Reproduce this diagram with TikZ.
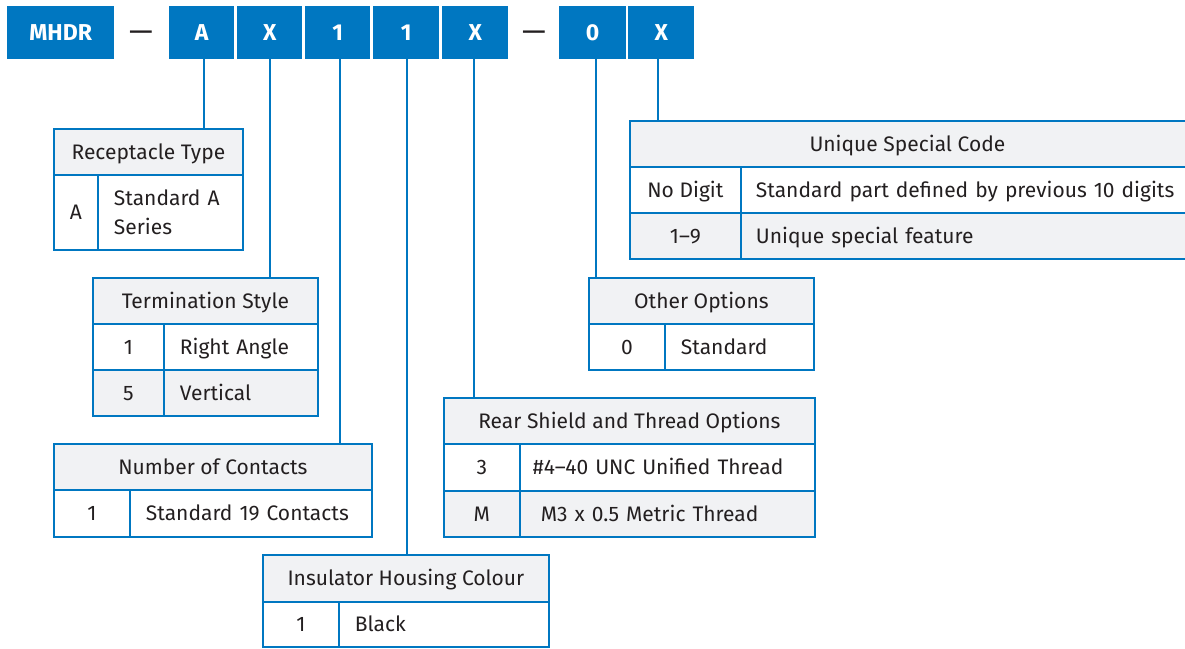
\documentclass[tikz,border=0pt]{standalone}
\usepackage{fontspec}
\setmainfont{Fira Sans}
\definecolor{bl}{HTML}{0077C1}
\definecolor{hg}{HTML}{F1F2F4}
\definecolor{tc}{HTML}{231F20}
\newcommand\tfnt{\fontsize{21}{29}\selectfont}
\newcommand\bfnt{\fontsize{23}{29}\selectfont\bfseries}
\newcommand\dfnt{\fontsize{30}{30}\selectfont}
\tikzset{
  topbox/.style={fill=bl, text=white, font=\bfnt, inner sep=0pt, anchor=north west, minimum height=53pt, text height=16pt, text depth=0pt},
  dashtxt/.style={text=tc, font=\dfnt, inner sep=0pt},
  base0/.style={draw=bl, line width=1.8pt, inner sep=0pt, anchor=north west, text=tc, font=\tfnt},
  base/.style={base0, text height=14.5pt, text depth=0pt},
  hd/.style={base, fill=hg},
  kc/.style={base},
  vc/.style={base, align=left, inner xsep=16pt},
  vc2/.style={base0, align=left, inner xsep=16pt},
  conn/.style={draw=bl, line width=2pt},
}
\begin{document}
\begin{tikzpicture}[x=1pt,y=-1pt]
\useasboundingbox (0,0) rectangle (1185,648);
% top code boxes
\node[topbox, minimum width=107pt] (bM) at (7,6) {MHDR};
\node[dashtxt] (d1) at (141,36) {—};
\node[topbox, minimum width=65pt] (bA) at (169,6) {A};
\node[topbox, minimum width=65pt] (bX1) at (237,6) {X};
\node[topbox, minimum width=65pt] (b1a) at (305,6) {1};
\node[topbox, minimum width=66pt] (b1b) at (373,6) {1};
\node[topbox, minimum width=66pt] (bX2) at (442,6) {X};
\node[dashtxt] (d2) at (534,36) {—};
\node[topbox, minimum width=67pt] (b0) at (559,6) {0};
\node[topbox, minimum width=66pt] (bX3) at (628,6) {X};

% Receptacle Type
\node[hd, minimum width=189pt, minimum height=46pt] (rt) at (53,128) {Receptacle Type};
\node[kc, minimum width=44pt, minimum height=75pt] (rt1k) at (53,174) {A};
\node[vc2, text width=113pt, minimum height=75pt] (rt1v) at (97,174) {Standard A\\Series};

% Termination Style
\node[hd, minimum width=225pt, minimum height=46pt] (ts) at (92,277) {Termination Style};
\node[kc, minimum width=71pt, minimum height=46pt] (ts1k) at (92,323) {1};
\node[vc, text width=122pt, minimum height=46pt] (ts1v) at (163,323) {Right Angle};
\node[kc, fill=hg, minimum width=71pt, minimum height=46pt] (ts2k) at (92,369) {5};
\node[vc, fill=hg, text width=122pt, minimum height=46pt] (ts2v) at (163,369) {Vertical};

% Number of Contacts
\node[hd, minimum width=318pt, minimum height=46pt] (nc) at (53,443) {Number of Contacts};
\node[kc, minimum width=76pt, minimum height=47pt] (nc1k) at (53,489) {1};
\node[vc, text width=210pt, minimum height=47pt] (nc1v) at (129,489) {Standard 19 Contacts};

% Insulator Housing Colour
\node[hd, minimum width=286pt, minimum height=47pt] (ih) at (262,554) {Insulator Housing Colour};
\node[kc, minimum width=76pt, minimum height=45pt] (ih1k) at (262,601) {1};
\node[vc, text width=178pt, minimum height=45pt] (ih1v) at (338,601) {Black};

% Rear Shield and Thread Options
\node[hd, minimum width=371pt, minimum height=46pt] (rs) at (443,397) {Rear Shield and Thread Options};
\node[kc, minimum width=76pt, minimum height=47pt] (rs1k) at (443,443) {3};
\node[vc, inner xsep=13pt, text width=269pt, minimum height=47pt] (rs1v) at (519,443) {\#4–40 UNC Unified Thread};
\node[kc, fill=hg, minimum width=76pt, minimum height=46pt] (rs2k) at (443,490) {M};
\node[vc, fill=hg, inner xsep=21pt, text width=253pt, minimum height=46pt] (rs2v) at (519,490) {M3 x 0.5 Metric Thread};

% Other Options
\node[hd, minimum width=225pt, minimum height=46pt] (oo) at (588,277) {Other Options};
\node[kc, minimum width=76pt, minimum height=46pt] (oo1k) at (588,323) {0};
\node[vc, text width=117pt, minimum height=46pt] (oo1v) at (664,323) {Standard};

% Unique Special Code
\node[hd, minimum width=561pt, minimum height=46pt] (us) at (629,120) {\hspace*{-6pt}Unique Special Code};
\node[kc, minimum width=111pt, minimum height=46pt] (us1k) at (629,166) {No Digit};
\node[vc, inner xsep=15pt, text width=420pt, minimum height=46pt] (us1v) at (740,166) {Standard part defined by previous 10 digits};
\node[kc, fill=hg, minimum width=111pt, minimum height=46pt] (us2k) at (629,212) {1–9};
\node[vc, fill=hg, inner xsep=15pt, text width=420pt, minimum height=46pt] (us2v) at (740,212) {Unique special feature};

% connectors
\draw[conn] ([xshift=2pt]bA.south) -- ([xshift=2pt]bA.south |- rt.north);
\draw[conn] (bX1.south) -- (bX1.south |- ts.north);
\draw[conn] ([xshift=2.5pt]b1a.south) -- ([xshift=2.5pt]b1a.south |- nc.north);
\draw[conn] ([xshift=1pt]b1b.south) -- ([xshift=1pt]b1b.south |- ih.north);
\draw[conn] ([xshift=-1pt]bX2.south) -- ([xshift=-1pt]bX2.south |- rs.north);
\draw[conn] ([xshift=3.5pt]b0.south) -- ([xshift=3.5pt]b0.south |- oo.north);
\draw[conn] ([xshift=-3pt]bX3.south) -- ([xshift=-3pt]bX3.south |- us.north);
\end{tikzpicture}
\end{document}
